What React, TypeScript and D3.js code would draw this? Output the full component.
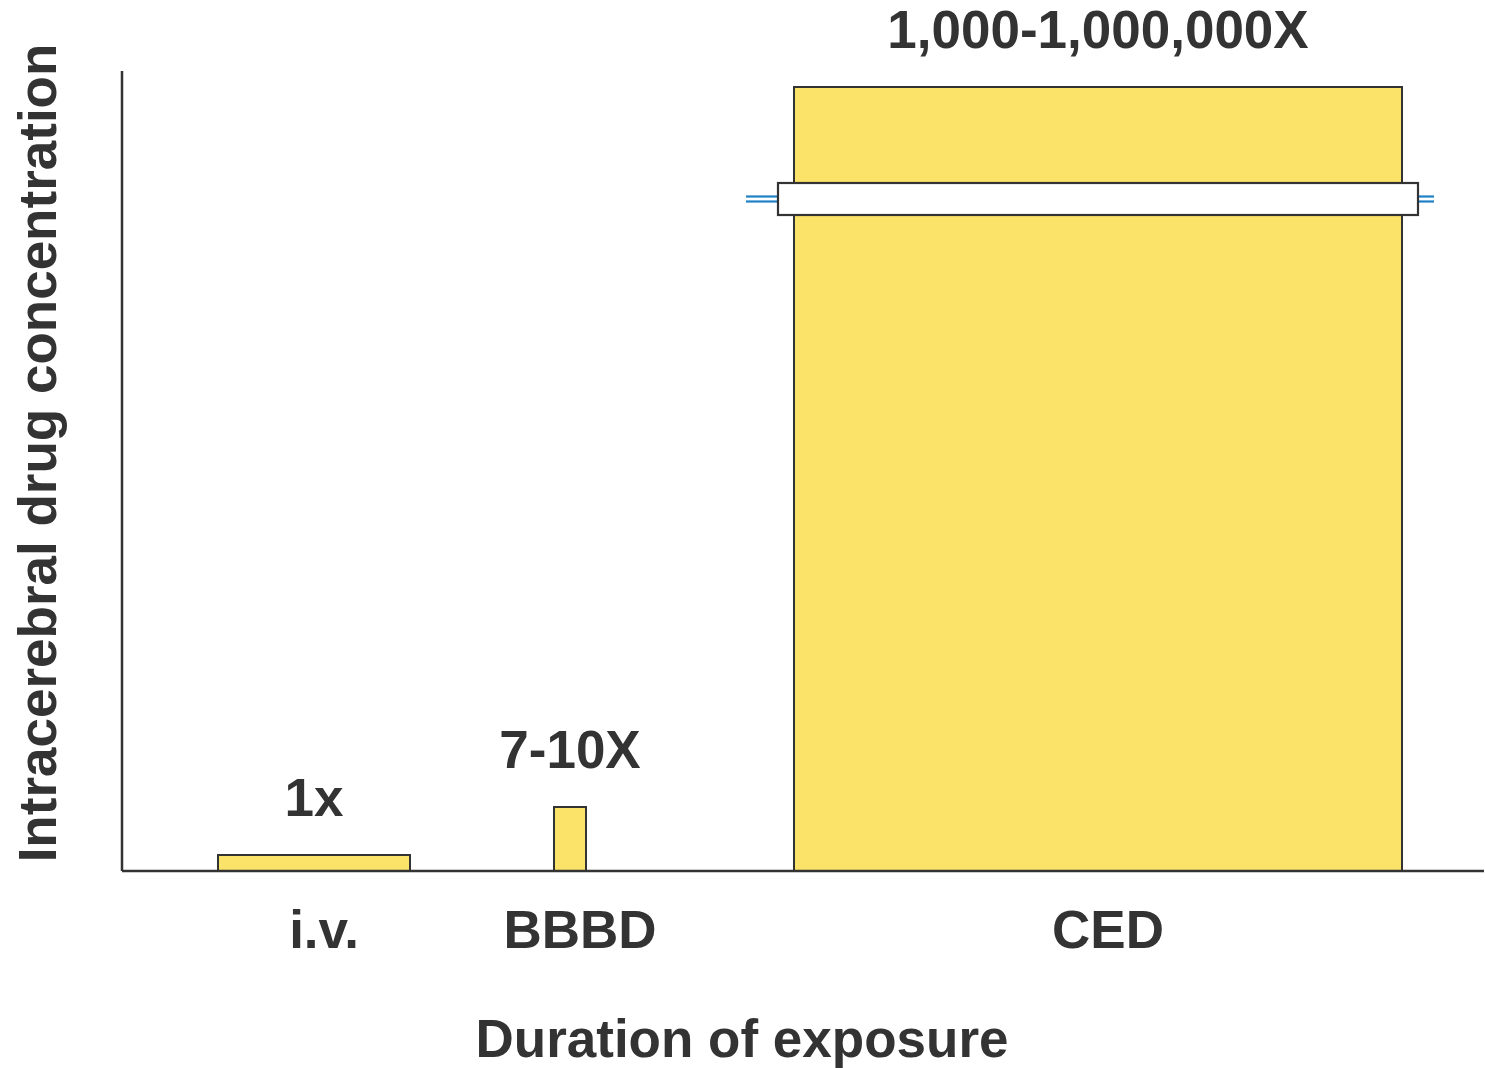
import React from "react";
import * as d3 from "d3";

// Delivery routes, with exposure-duration extents and relative concentration heights
const categories = ["i.v.", "BBBD", "CED"];
const durationStart = [6, 27, 42];
const durationEnd = [18, 29, 80];
const concentration = [1, 4, 49];
const valueLabels = ["1x", "7-10X", "1,000-1,000,000X"];

// Axis break on the CED bar (value band and horizontal extent)
const breakValue = [41, 43];
const breakExtent = [41, 81];
const breakTicks = [
  [39, 41],
  [81, 82],
];

const xTitle = "Duration of exposure";
const yTitle = "Intracerebral drug concentration";

const W = 1485;
const H = 1068;
const INK = "#333333";
const FILL = "#FBE36A";
const BLUE = "#1E80C6";
const FONT = "'Liberation Sans', Arial, Helvetica, sans-serif";

export default function App() {
  const x = d3.scaleLinear().domain([0, 85.125]).range([122, 1484]);
  const y = d3.scaleLinear().domain([0, 50]).range([871, 71]);

  const breakMid = (breakValue[0] + breakValue[1]) / 2;

  return (
    <svg
      width={W}
      height={H}
      viewBox={`0 0 ${W} ${H}`}
      style={{ position: "absolute", left: 0, top: 0, background: "#fff" }}
    >
      <rect width={W} height={H} fill="#fff" />

      {/* bars */}
      {categories.map((c, i) => (
        <rect
          key={c}
          x={x(durationStart[i])}
          y={y(concentration[i])}
          width={x(durationEnd[i]) - x(durationStart[i])}
          height={y(0) - y(concentration[i])}
          fill={FILL}
          stroke={INK}
          strokeWidth={2}
        />
      ))}

      {/* axis break */}
      {breakTicks.map(([a, b], i) => (
        <g key={i}>
          <line x1={x(a)} x2={x(b)} y1={y(breakMid) - 2.5} y2={y(breakMid) - 2.5} stroke={BLUE} strokeWidth={2.2} />
          <line x1={x(a)} x2={x(b)} y1={y(breakMid) + 2.5} y2={y(breakMid) + 2.5} stroke={BLUE} strokeWidth={2.2} />
        </g>
      ))}
      <rect
        x={x(breakExtent[0])}
        y={y(breakValue[1])}
        width={x(breakExtent[1]) - x(breakExtent[0])}
        height={y(breakValue[0]) - y(breakValue[1])}
        fill="#fff"
        stroke={INK}
        strokeWidth={2.2}
      />

      {/* axes */}
      <line x1={x(0)} x2={x(0)} y1={y(50)} y2={y(0)} stroke={INK} strokeWidth={2.5} />
      <line x1={x(0)} x2={x(85.125)} y1={y(0)} y2={y(0)} stroke={INK} strokeWidth={2.5} />

      {/* value labels */}
      {categories.map((c, i) => (
        <text
          key={c + "-v"}
          x={x((durationStart[i] + durationEnd[i]) / 2)}
          y={y(concentration[i]) - 39}
          textAnchor="middle"
          fontFamily={FONT}
          fontWeight="bold"
          fontSize={53}
          fill={INK}
        >
          {valueLabels[i]}
        </text>
      ))}

      {/* category labels */}
      {categories.map((c, i) => (
        <text
          key={c}
          x={x((durationStart[i] + durationEnd[i]) / 2) + 10}
          y={948}
          textAnchor="middle"
          fontFamily={FONT}
          fontWeight="bold"
          fontSize={53}
          fill={INK}
        >
          {c}
        </text>
      ))}

      {/* axis titles */}
      <text
        x={742}
        y={1057}
        textAnchor="middle"
        fontFamily={FONT}
        fontWeight="bold"
        fontSize={53}
        fill={INK}
      >
        {xTitle}
      </text>
      <text
        transform="translate(56,453) rotate(-90)"
        textAnchor="middle"
        fontFamily={FONT}
        fontWeight="bold"
        fontSize={53}
        fill={INK}
      >
        {yTitle}
      </text>
    </svg>
  );
}
